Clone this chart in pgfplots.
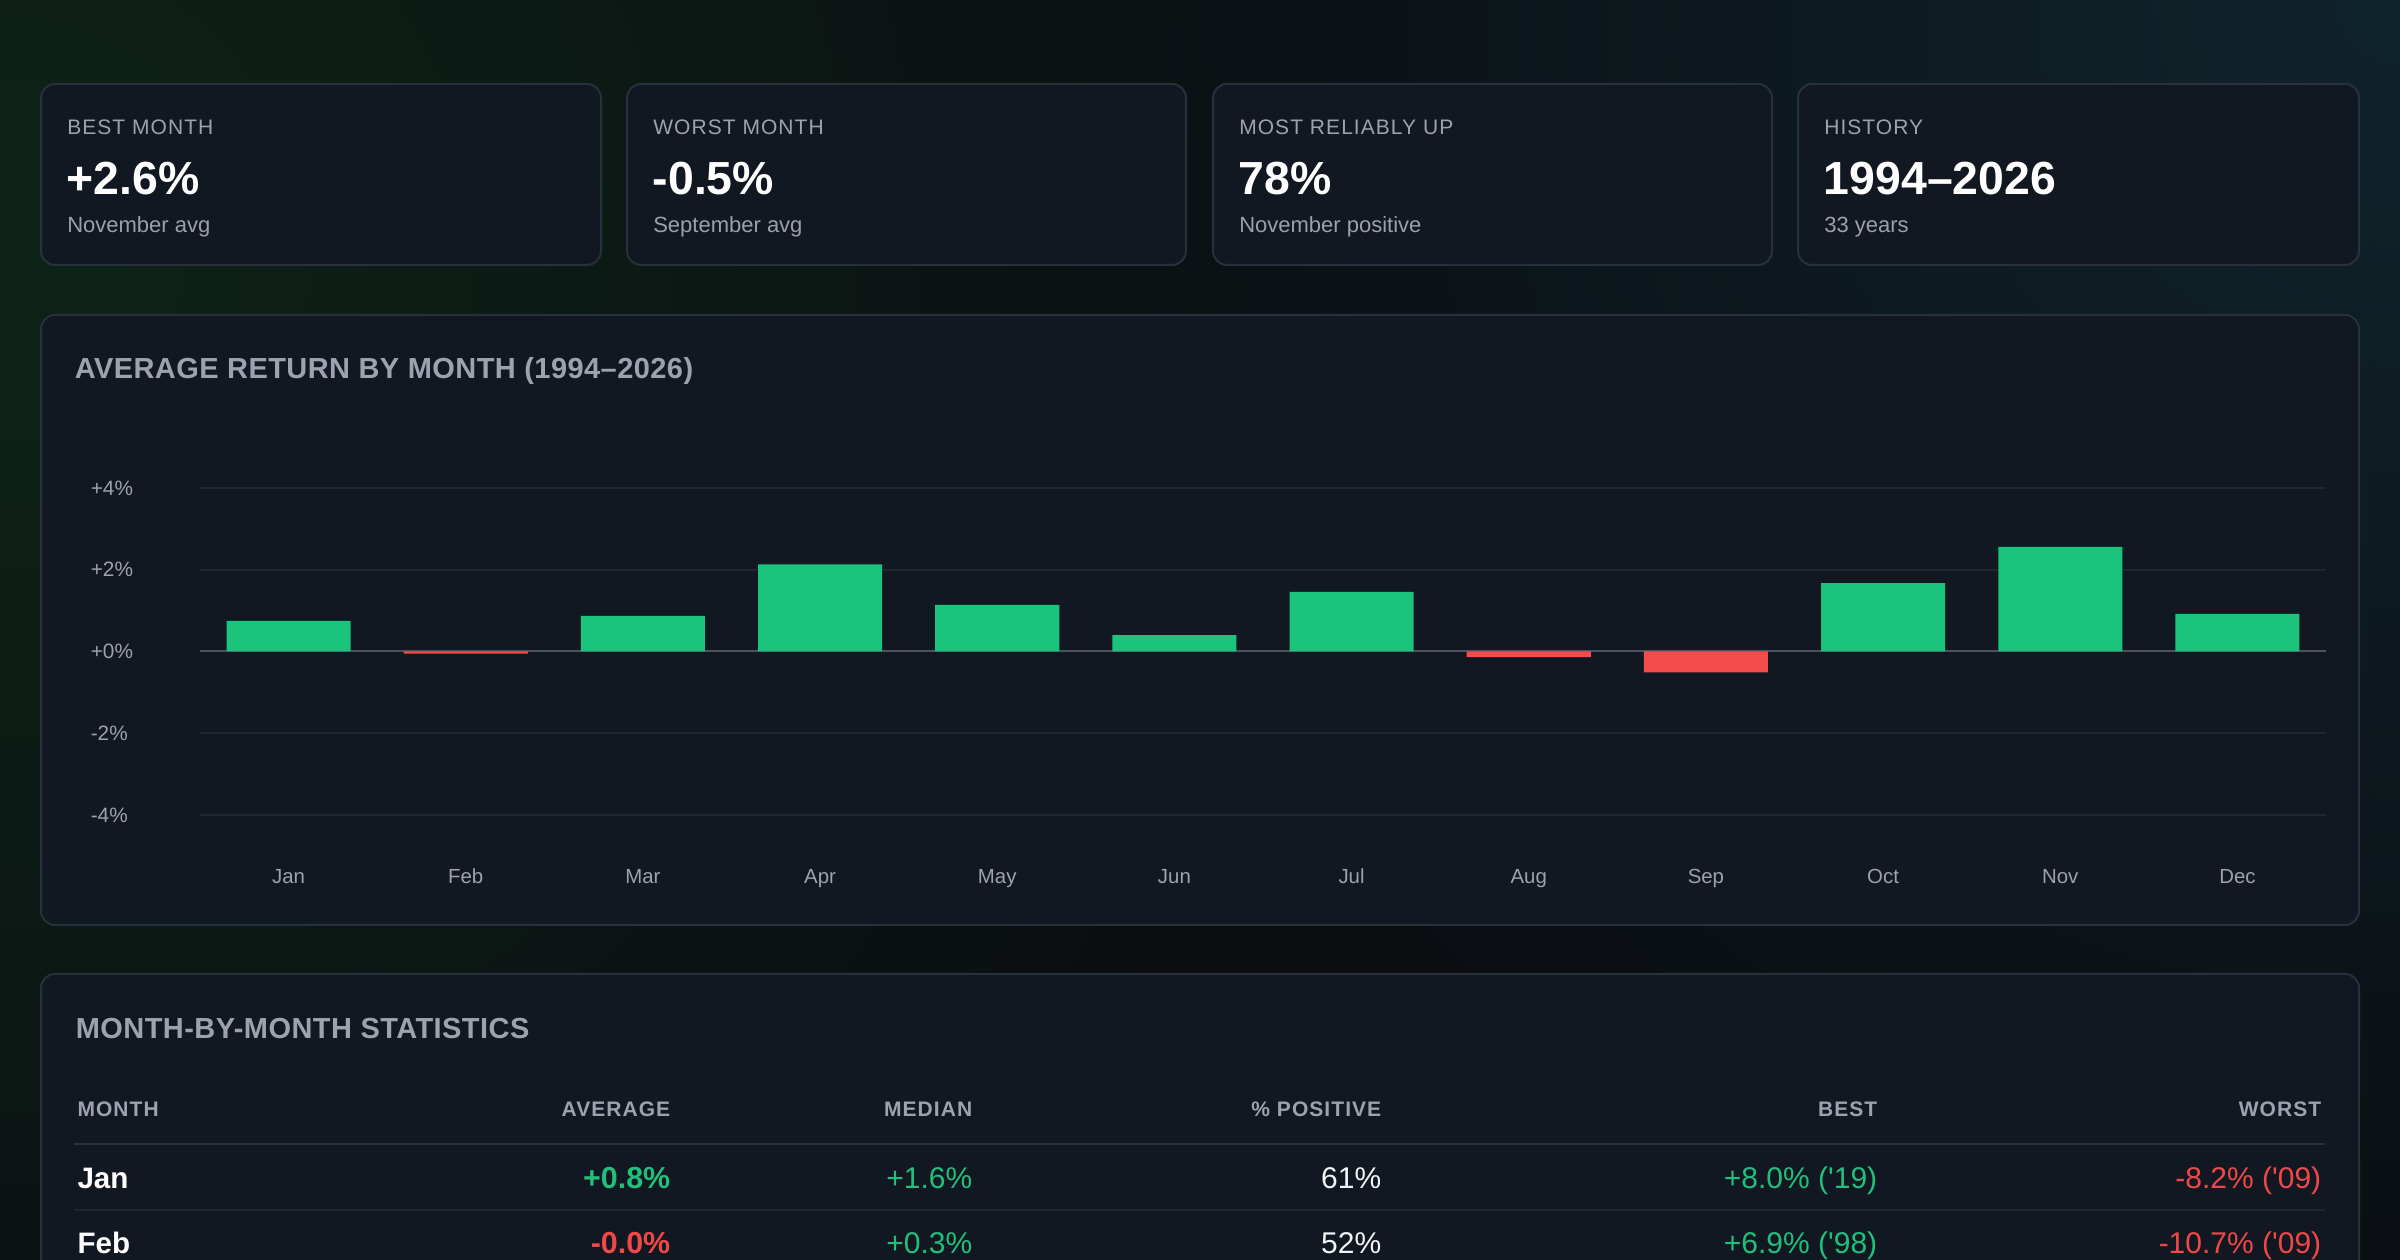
\documentclass[border=0pt]{standalone}
\usepackage{pgfplots}
\pgfplotsset{compat=1.18}
\usepackage{fontspec}
\setmainfont{Liberation Sans}
\newfontfamily\lsfont[LetterSpace=5]{Liberation Sans}
\newfontfamily\tfont[LetterSpace=1.5]{Liberation Sans}
\usetikzlibrary{fadings}
\definecolor{bg}{HTML}{0B0D11}
\definecolor{panel}{HTML}{111821}
\definecolor{pborder}{HTML}{28303B}
\definecolor{gridc}{HTML}{1F2630}
\definecolor{zeroc}{HTML}{4B5360}
\definecolor{upc}{HTML}{1BC47D}
\definecolor{dnc}{HTML}{F44B4B}
\definecolor{upt}{HTML}{20C07C}
\definecolor{dnt}{HTML}{F04848}
\definecolor{lbl}{HTML}{9CA3AF}
\definecolor{sub}{HTML}{9AA1AB}
\definecolor{wht}{HTML}{F3F4F6}
\definecolor{glowg}{HTML}{0E2418}
\definecolor{glowb}{HTML}{10242C}
\tikzfading[name=glowfade, inner color=transparent!0, outer color=transparent!100]
\begin{document}
\begin{tikzpicture}[x=0.25pt,y=0.25pt]
\clip (0,0) rectangle (2400,1260);
\fill[bg] (0,0) rectangle (2400,1260);
\fill[glowg, path fading=glowfade] (0,1000) circle (1400);
\fill[glowb, path fading=glowfade] (2400,1260) circle (1400);
\tikzset{pnl/.style={fill=panel, draw=pborder, line width=0.5pt, rounded corners=3.5pt},
  clab/.style={anchor=base west, inner sep=0, text=lbl, font=\lsfont\fontsize{5.25}{6}\selectfont},
  cval/.style={anchor=base west, inner sep=0, text=white, font=\bfseries\fontsize{11.6}{13}\selectfont},
  csub/.style={anchor=base west, inner sep=0, text=sub, font=\fontsize{5.5}{6.5}\selectfont}}
% cards
\path[pnl] (41,995) rectangle (601,1176);
\path[pnl] (627,995) rectangle (1186,1176);
\path[pnl] (1213,995) rectangle (1772,1176);
\path[pnl] (1798,995) rectangle (2359,1176);
\node[clab] at (66.5,1125.5) {BEST MONTH};
\node[cval] at (66,1065.5) {+2.6\%};
\node[csub] at (66.5,1027.7) {November avg};
\node[clab] at (652.5,1125.5) {WORST MONTH};
\node[cval] at (652,1065.5) {-0.5\%};
\node[csub] at (652.5,1027.7) {September avg};
\node[clab] at (1238.5,1125.5) {MOST RELIABLY UP};
\node[cval] at (1238,1065.5) {78\%};
\node[csub] at (1238.5,1027.7) {November positive};
\node[clab] at (1823.5,1125.5) {HISTORY};
\node[cval] at (1823,1065.5) {1994–2026};
\node[csub] at (1823.5,1027.7) {33 years};
% chart panel
\path[pnl] (41,335) rectangle (2359,945);
\node[anchor=base west, inner sep=0, text=lbl, font=\tfont\bfseries\fontsize{7.25}{8}\selectfont] at (74,881) {AVERAGE RETURN BY MONTH (1994–2026)};
\begin{axis}[
  at={(50pt,111.25pt)}, anchor=south west,
  scale only axis, width=531.5pt, height=81.75pt,
  xmin=-0.5, xmax=11.5, ymin=-4, ymax=4,
  axis line style={draw=none},
  major tick length=0pt,
  ymajorgrids, xmajorgrids=false,
  grid style={gridc, line width=0.5pt},
  ytick={-4,-2,2,4},
  yticklabels={-4\%,-2\%,+2\%,+4\%},
  extra y ticks={0},
  extra y tick labels={+0\%},
  extra y tick style={grid style={zeroc, line width=0.5pt}},
  xtick={0,1,2,3,4,5,6,7,8,9,10,11},
  xticklabels={Jan,Feb,Mar,Apr,May,Jun,Jul,Aug,Sep,Oct,Nov,Dec},
  yticklabel style={anchor=west, inner sep=0pt, xshift=-27.5pt, text=lbl, font=\fontsize{5.2}{6}\selectfont},
  xticklabel style={anchor=base, inner sep=0pt, yshift=-17.2pt, text=lbl, font=\fontsize{5.1}{6}\selectfont},
  clip=false,
]
\addplot[ybar, bar width=0.7, bar shift=0pt, fill=upc, draw=none] coordinates {(0,0.75) (2,0.87) (3,2.13) (4,1.14) (5,0.40) (6,1.46) (9,1.67) (10,2.56) (11,0.92)};
\addplot[ybar, bar width=0.7, bar shift=0pt, fill=dnc, draw=none] coordinates {(1,-0.05) (7,-0.14) (8,-0.51)};
\end{axis}
% table panel
\path[pnl] (41,-60) rectangle (2359,286);
\node[anchor=base west, inner sep=0, text=lbl, font=\tfont\bfseries\fontsize{7.25}{8}\selectfont] at (75,221.7) {MONTH-BY-MONTH STATISTICS};
\tikzset{hd/.style={inner sep=0, text=lbl, font=\lsfont\bfseries\fontsize{5.25}{6}\selectfont},
  rw/.style={anchor=base east, inner sep=0, font=\fontsize{7.5}{8}\selectfont}}
\node[hd, anchor=base west] at (76.7,143.3) {MONTH};
\node[hd, anchor=base east] at (671,143.3) {AVERAGE};
\node[hd, anchor=base east] at (973,143.3) {MEDIAN};
\node[hd, anchor=base east] at (1382,143.3) {\% POSITIVE};
\node[hd, anchor=base east] at (1878,143.3) {BEST};
\node[hd, anchor=base east] at (2322,143.3) {WORST};
\draw[pborder, line width=0.5pt] (74,116) -- (2325,116);
\node[rw, anchor=base west, text=white, font=\bfseries\fontsize{7.4}{8}\selectfont] at (76.7,71.7) {Jan};
\node[rw, text=upt, font=\bfseries\fontsize{7.6}{8}\selectfont] at (671,71.7) {+0.8\%};
\node[rw, text=upt] at (973,71.7) {+1.6\%};
\node[rw, text=wht] at (1382,71.7) {61\%};
\node[rw, text=upt] at (1878,71.7) {+8.0\% (\textquotesingle19)};
\node[rw, text=dnt] at (2322,71.7) {-8.2\% (\textquotesingle09)};
\draw[gridc, line width=0.5pt] (74,50) -- (2325,50);
\node[rw, anchor=base west, text=white, font=\bfseries\fontsize{7.4}{8}\selectfont] at (76.7,6) {Feb};
\node[rw, text=dnt, font=\bfseries\fontsize{7.6}{8}\selectfont] at (671,6) {-0.0\%};
\node[rw, text=upt] at (973,6) {+0.3\%};
\node[rw, text=wht] at (1382,6) {52\%};
\node[rw, text=upt] at (1878,6) {+6.9\% (\textquotesingle98)};
\node[rw, text=dnt] at (2322,6) {-10.7\% (\textquotesingle09)};
\end{tikzpicture}
\end{document}
